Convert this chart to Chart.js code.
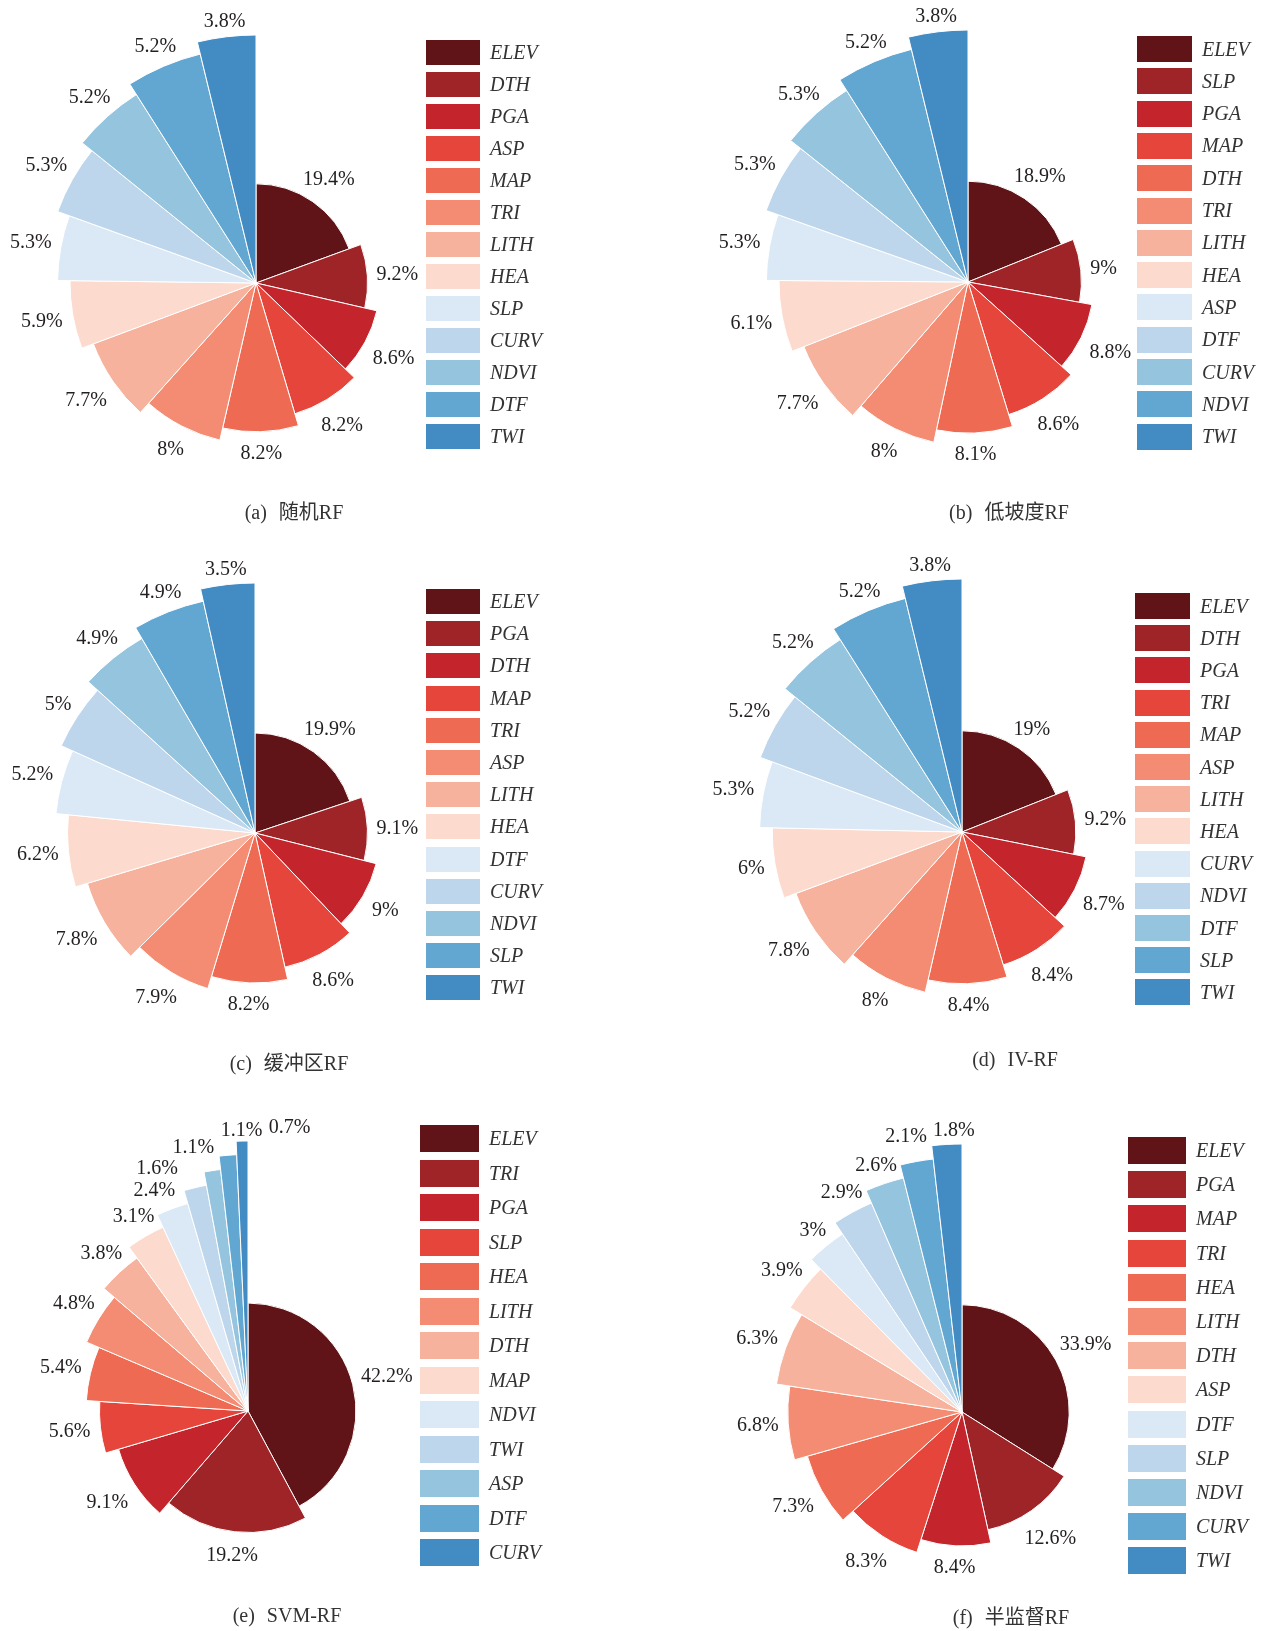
<!DOCTYPE html>
<html>
<head>
<meta charset="utf-8">
<script src="https://cdn.jsdelivr.net/npm/chart.js@4.4.0/dist/chart.umd.min.js"></script>
<style>
  html, body { margin: 0; padding: 0; background: #fff; width: 1270px; height: 1631px; overflow: hidden; }
  #page { position: relative; width: 1270px; height: 1631px; overflow: hidden; }
  canvas { position: absolute; }
  .legend { position: absolute; z-index: 2; }
  .legend .row { position: absolute; left: 0; display: flex; align-items: center; }
  .legend .sw { display: inline-block; }
  .legend .tx { font: italic 20px "Liberation Serif", serif; color: #333; margin-left: 10px; white-space: nowrap; }
  .cap { position: absolute; z-index: 2; font: 20px "Liberation Serif", "Noto Sans CJK SC", serif; color: #333;
         transform: translate(-50%, -50%); white-space: nowrap; }
  .cap span { margin-left: 12px; }
</style>
</head>
<body>
<div id="page"></div>
<script>
// Factor contribution (%) for each sampling strategy, listed from the largest slice clockwise
const factorsA = ['ELEV', 'DTH', 'PGA', 'ASP', 'MAP', 'TRI', 'LITH', 'HEA', 'SLP', 'CURV', 'NDVI', 'DTF', 'TWI'];
const sharesA  = [19.4, 9.2, 8.6, 8.2, 8.2, 8, 7.7, 5.9, 5.3, 5.3, 5.2, 5.2, 3.8];

const factorsB = ['ELEV', 'SLP', 'PGA', 'MAP', 'DTH', 'TRI', 'LITH', 'HEA', 'ASP', 'DTF', 'CURV', 'NDVI', 'TWI'];
const sharesB  = [18.9, 9, 8.8, 8.6, 8.1, 8, 7.7, 6.1, 5.3, 5.3, 5.3, 5.2, 3.8];

const factorsC = ['ELEV', 'PGA', 'DTH', 'MAP', 'TRI', 'ASP', 'LITH', 'HEA', 'DTF', 'CURV', 'NDVI', 'SLP', 'TWI'];
const sharesC  = [19.9, 9.1, 9, 8.6, 8.2, 7.9, 7.8, 6.2, 5.2, 5, 4.9, 4.9, 3.5];

const factorsD = ['ELEV', 'DTH', 'PGA', 'TRI', 'MAP', 'ASP', 'LITH', 'HEA', 'CURV', 'NDVI', 'DTF', 'SLP', 'TWI'];
const sharesD  = [19, 9.2, 8.7, 8.4, 8.4, 8, 7.8, 6, 5.3, 5.2, 5.2, 5.2, 3.8];

const factorsE = ['ELEV', 'TRI', 'PGA', 'SLP', 'HEA', 'LITH', 'DTH', 'MAP', 'NDVI', 'TWI', 'ASP', 'DTF', 'CURV'];
const sharesE  = [42.2, 19.2, 9.1, 5.6, 5.4, 4.8, 3.8, 3.1, 2.4, 1.6, 1.1, 1.1, 0.7];

const factorsF = ['ELEV', 'PGA', 'MAP', 'TRI', 'HEA', 'LITH', 'DTH', 'ASP', 'DTF', 'SLP', 'NDVI', 'CURV', 'TWI'];
const sharesF  = [33.9, 12.6, 8.4, 8.3, 7.3, 6.8, 6.3, 3.9, 3, 2.9, 2.6, 2.1, 1.8];

// Reds (dark to light) followed by Blues (light to dark), by slice rank
const rankColors = ['#611417', '#9e2428', '#c4242b', '#e5453a', '#ee6a52', '#f38c72', '#f6b29c',
                    '#fcdbce', '#dbe9f6', '#bed6ec', '#95c4de', '#62a7d2', '#428bc3'];

const panels = [
  { factors: factorsA, shares: sharesA, tag: '(a)', name: '随机RF',   cx: 256, cy: 283,  R: 248,
    legend: { x: 426,  y: 40,   w: 54, h: 25, pitch: 32.0 }, capX: 294,  capY: 510 },
  { factors: factorsB, shares: sharesB, tag: '(b)', name: '低坡度RF', cx: 968, cy: 282,  R: 252,
    legend: { x: 1137, y: 36,   w: 55, h: 26, pitch: 32.3 }, capX: 1009, capY: 510 },
  { factors: factorsC, shares: sharesC, tag: '(c)', name: '缓冲区RF', cx: 255, cy: 833,  R: 250,
    legend: { x: 426,  y: 589,  w: 54, h: 25, pitch: 32.2 }, capX: 289,  capY: 1061 },
  { factors: factorsD, shares: sharesD, tag: '(d)', name: 'IV-RF',    cx: 962, cy: 832,  R: 253,
    legend: { x: 1135, y: 593,  w: 55, h: 26, pitch: 32.2 }, capX: 1015, capY: 1059 },
  { factors: factorsE, shares: sharesE, tag: '(e)', name: 'SVM-RF',   cx: 248, cy: 1411, R: 270,
    legend: { x: 420,  y: 1125, w: 59, h: 27, pitch: 34.5 }, capX: 287,  capY: 1615 },
  { factors: factorsF, shares: sharesF, tag: '(f)', name: '半监督RF', cx: 962, cy: 1412, R: 268,
    legend: { x: 1128, y: 1137, w: 58, h: 27, pitch: 34.2 }, capX: 1011, capY: 1615 }
];

const HALF = 330;             // half size of each chart canvas
const LABEL_FONT = '20px "Liberation Serif", serif';
const LABEL_H = 18;
const NUDGE = 0.4 * Math.PI / 180;

// Each slice's outer radius grows with its rank: 40% of the full radius for the first, +5% per step
const roseRadius = {
  id: 'roseRadius',
  afterDatasetUpdate(chart, args) {
    const arcs = args.meta.data;
    const R = chart.options.plugins.roseRadius.R;
    arcs.forEach((arc, i) => { arc.outerRadius = R * (0.4 + 0.05 * i); });
  }
};

function boxesOverlap(a, b) {
  return Math.abs(a.x - b.x) < (a.w + b.w) / 2 + 6 && Math.abs(a.y - b.y) < (a.h + b.h) / 2 + 3;
}

// label centre just outside the slice edge along the given direction
function placeLabel(it) {
  const ux = Math.cos(it.ang), uy = Math.sin(it.ang);
  const d = it.r + it.extra + 9 + 3 * uy + Math.abs(ux) * it.w / 2 + Math.abs(uy) * 8;
  it.x = it.cx + ux * d;
  it.y = it.cy + uy * d;
}

// does any sample point of the label box fall on a slice?
function labelHitsSlices(it, arcs) {
  const pts = [];
  for (const fx of [-0.5, 0, 0.5]) for (const fy of [-0.4, 0, 0.4]) pts.push([it.x + fx * it.w, it.y + fy * it.h]);
  return pts.some(([px, py]) => arcs.some(a => {
    const dx = px - a.x, dy = py - a.y;
    let ang = Math.atan2(dy, dx);
    while (ang < a.startAngle) ang += Math.PI * 2;
    while (ang >= a.startAngle + Math.PI * 2) ang -= Math.PI * 2;
    return ang <= a.endAngle && Math.hypot(dx, dy) < a.outerRadius + 3;
  }));
}

// Percentage labels outside each slice; crowded neighbours are fanned apart along the rim
const sliceLabels = {
  id: 'sliceLabels',
  afterDatasetsDraw(chart) {
    const ctx = chart.ctx;
    const meta = chart.getDatasetMeta(0);
    const values = chart.data.datasets[0].data;
    const arcs = meta.data.map(arc => arc.getProps(['x', 'y', 'startAngle', 'endAngle', 'outerRadius'], true));
    ctx.save();
    ctx.font = LABEL_FONT;
    const items = arcs.map((p, i) => {
      const text = values[i] + '%';
      const it = { text, w: ctx.measureText(text).width, h: LABEL_H, r: p.outerRadius, extra: 0,
                   cx: p.x, cy: p.y, ang: (p.startAngle + p.endAngle) / 2 };
      placeLabel(it);
      return it;
    });
    const n = items.length;
    for (let iter = 0; iter < 800; iter++) {
      let any = false;
      for (let k = 0; k < n; k++) {
        for (let s = 1; s <= 2; s++) {
          const a = items[k], b = items[(k + s) % n];
          if (boxesOverlap(a, b)) {
            a.ang -= NUDGE; b.ang += NUDGE;
            placeLabel(a); placeLabel(b);
            any = true;
          }
        }
      }
      for (const it of items) {
        let guard = 0;
        while (labelHitsSlices(it, arcs) && guard++ < 60) { it.extra += 1; placeLabel(it); any = true; }
      }
      if (!any) break;
    }
    ctx.fillStyle = '#231f20';
    ctx.textAlign = 'center';
    ctx.textBaseline = 'middle';
    items.forEach(it => ctx.fillText(it.text, it.x, it.y + 1));
    ctx.restore();
  }
};

const page = document.getElementById('page');

panels.forEach(pn => {
  const canvas = document.createElement('canvas');
  canvas.width = HALF * 2;
  canvas.height = HALF * 2;
  canvas.style.left = (pn.cx - HALF) + 'px';
  canvas.style.top = (pn.cy - HALF) + 'px';
  canvas.style.width = HALF * 2 + 'px';
  canvas.style.height = HALF * 2 + 'px';
  page.appendChild(canvas);

  const pad = HALF - pn.R;
  new Chart(canvas, {
    type: 'pie',
    data: {
      labels: pn.factors,
      datasets: [{
        data: pn.shares,
        backgroundColor: rankColors,
        borderColor: '#ffffff',
        borderWidth: 1,
        radius: pn.R
      }]
    },
    options: {
      responsive: false,
      animation: false,
      events: [],
      layout: { padding: { left: pad, right: pad, top: pad, bottom: pad } },
      plugins: {
        legend: { display: false },
        tooltip: { enabled: false },
        roseRadius: { R: pn.R }
      }
    },
    plugins: [roseRadius, sliceLabels]
  });

  // legend column
  const lg = document.createElement('div');
  lg.className = 'legend';
  lg.style.left = pn.legend.x + 'px';
  lg.style.top = pn.legend.y + 'px';
  pn.factors.forEach((f, i) => {
    const row = document.createElement('div');
    row.className = 'row';
    row.style.top = (i * pn.legend.pitch) + 'px';
    row.style.height = pn.legend.h + 'px';
    const sw = document.createElement('span');
    sw.className = 'sw';
    sw.style.width = pn.legend.w + 'px';
    sw.style.height = pn.legend.h + 'px';
    sw.style.background = rankColors[i];
    const tx = document.createElement('span');
    tx.className = 'tx';
    tx.textContent = f;
    row.appendChild(sw);
    row.appendChild(tx);
    lg.appendChild(row);
  });
  page.appendChild(lg);

  // caption
  const cap = document.createElement('div');
  cap.className = 'cap';
  cap.style.left = pn.capX + 'px';
  cap.style.top = pn.capY + 'px';
  cap.textContent = pn.tag;
  const nm = document.createElement('span');
  nm.textContent = pn.name;
  cap.appendChild(nm);
  page.appendChild(cap);
});
</script>
</body>
</html>
